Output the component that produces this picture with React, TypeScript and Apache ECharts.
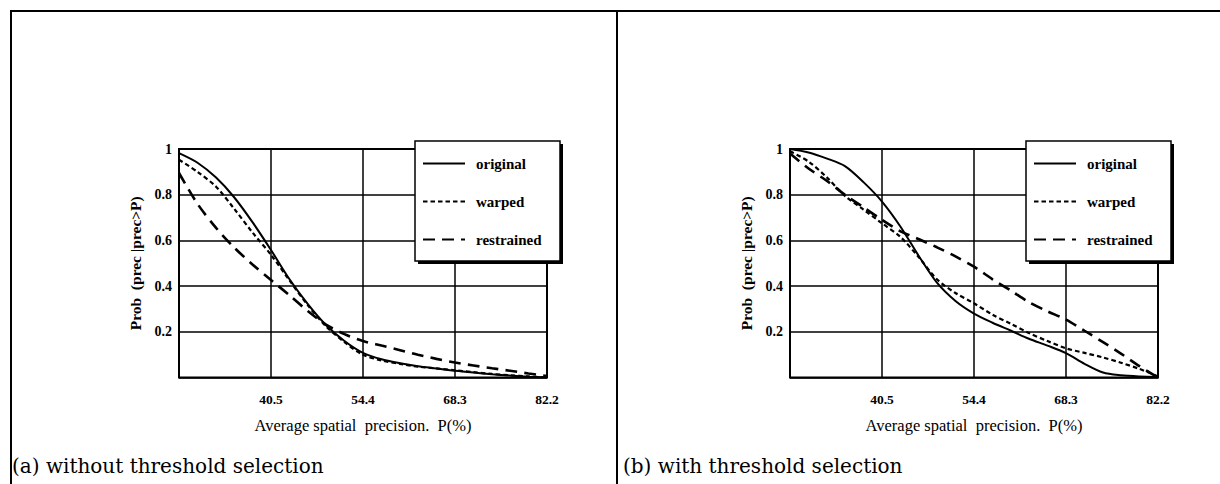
import React, { useEffect, useRef } from "react";
import * as echarts from "echarts";

// ---- data ----
const X_MIN = 26.6;
const X_STEP = 13.9;
const xTickLabels = ["", "40.5", "54.4", "68.3", "82.2"];
const seriesNames = ["original", "warped", "restrained"];

// sample positions along x (average spatial precision, %)
const precision = [26.6, 29.4, 32.2, 34.9, 37.7, 40.5, 43.3, 46.1, 48.8, 51.6, 54.4, 57.2, 60.0, 62.7, 65.5, 68.3, 71.1, 73.9, 76.6, 79.4, 82.2];

// panel (a) without threshold selection
const aOriginal = [0.982, 0.94, 0.875, 0.79, 0.68, 0.558, 0.43, 0.32, 0.23, 0.16, 0.108, 0.08, 0.063, 0.05, 0.04, 0.03, 0.022, 0.015, 0.009, 0.004, 0.0];
const aWarped = [0.953, 0.9, 0.835, 0.74, 0.635, 0.537, 0.425, 0.315, 0.225, 0.155, 0.1, 0.075, 0.06, 0.048, 0.04, 0.032, 0.024, 0.016, 0.01, 0.005, 0.0];
const aRestrained = [0.895, 0.76, 0.655, 0.57, 0.495, 0.427, 0.36, 0.29, 0.232, 0.19, 0.16, 0.14, 0.12, 0.1, 0.082, 0.066, 0.053, 0.041, 0.03, 0.018, 0.007];

// panel (b) with threshold selection
const bOriginal = [1.0, 0.985, 0.958, 0.925, 0.855, 0.77, 0.66, 0.53, 0.415, 0.335, 0.28, 0.24, 0.205, 0.17, 0.14, 0.107, 0.06, 0.022, 0.01, 0.005, 0.003];
const bWarped = [0.99, 0.945, 0.875, 0.795, 0.735, 0.675, 0.615, 0.525, 0.43, 0.37, 0.325, 0.275, 0.235, 0.195, 0.16, 0.128, 0.108, 0.088, 0.065, 0.038, 0.005];
const bRestrained = [0.98, 0.915, 0.86, 0.8, 0.745, 0.69, 0.64, 0.605, 0.57, 0.53, 0.485, 0.43, 0.38, 0.33, 0.29, 0.254, 0.205, 0.155, 0.105, 0.05, 0.0];

const captions = ["(a) without threshold selection", "(b) with threshold selection"];
const xAxisTitle = "Average spatial  precision.  P(%)";
const yAxisTitle = "Prob  (prec |prec>P)";

const toPts = (vs: number[]) => precision.map((p, i) => [(p - X_MIN) / X_STEP, vs[i]]);

const lineStyles: any[] = [
  { color: "#000", width: 2, type: "solid" },
  { color: "#000", width: 2.2, type: [4.5, 3] },
  { color: "#000", width: 2.6, type: [12, 7] },
];

const SERIF = "'Liberation Serif', 'Times New Roman', Times, serif";

export default function App() {
  const ref = useRef<HTMLDivElement>(null);
  useEffect(() => {
    if (!ref.current) return;
    const chart = echarts.init(ref.current, undefined, { renderer: "svg" });
    const gridLefts = [179, 790];
    const grids = gridLefts.map((l) => ({
      left: l,
      top: 149,
      width: 368,
      height: 228.6,
      show: true,
      borderColor: "#000",
      borderWidth: 2,
      backgroundColor: "transparent",
    }));
    const xAxes = gridLefts.map((_, gi) => ({
      type: "value",
      gridIndex: gi,
      min: 0,
      max: 4,
      interval: 1,
      axisLine: { show: false },
      axisTick: { show: false },
      splitLine: { show: true, lineStyle: { color: "#000", width: 1.5 } },
      axisLabel: {
        margin: 15,
        color: "#000",
        fontFamily: SERIF,
        fontWeight: "bold",
        fontSize: 13.5,
        formatter: (v: number) => xTickLabels[Math.round(v)] ?? "",
      },
      name: xAxisTitle,
      nameLocation: "middle",
      nameGap: 39,
      nameTextStyle: { color: "#000", fontFamily: SERIF, fontSize: 16.5 },
    }));
    const yAxes = gridLefts.map((_, gi) => ({
      type: "value",
      gridIndex: gi,
      min: 0,
      max: 1,
      interval: 0.2,
      axisLine: { show: false },
      axisTick: { show: false },
      splitLine: { show: true, lineStyle: { color: "#000", width: 1.5 } },
      axisLabel: {
        margin: 7,
        color: "#000",
        fontFamily: SERIF,
        fontWeight: "bold",
        fontSize: 14,
        formatter: (v: number) => (v < 0.01 ? "" : v > 0.99 ? "1" : v.toFixed(1)),
      },
      name: yAxisTitle,
      nameLocation: "middle",
      nameRotate: 90,
      nameGap: 36,
      nameTextStyle: { color: "#000", fontFamily: SERIF, fontWeight: "bold", fontSize: 15.5 },
    }));

    const panelData = [
      [aOriginal, aWarped, aRestrained],
      [bOriginal, bWarped, bRestrained],
    ];
    const series: any[] = [];
    panelData.forEach((arr, gi) => {
      arr.forEach((vals, si) => {
        series.push({
          type: "line",
          name: seriesNames[si],
          xAxisIndex: gi,
          yAxisIndex: gi,
          data: toPts(vals),
          symbol: "none",
          smooth: 0.3,
          color: "#000",
          lineStyle: lineStyles[si],
          z: 3,
        });
      });
    });

    const legends = gridLefts.map((l) => ({
      orient: "vertical",
      left: l + 238,
      top: 151,
      itemWidth: 42,
      itemHeight: 14,
      itemGap: 23,
      z: 20,
      data: seriesNames,
      selectedMode: false,
      itemStyle: { opacity: 0 },
      textStyle: { color: "#000", fontFamily: SERIF, fontWeight: "bold", fontSize: 15, padding: [0, 0, 0, 6] },
    }));

    const graphic: any[] = [];
    const frame = { stroke: "#000", lineWidth: 2 };
    graphic.push({ type: "line", shape: { x1: 10, y1: 11, x2: 1220, y2: 11 }, style: frame, z: 30 });
    graphic.push({ type: "line", shape: { x1: 11, y1: 10, x2: 11, y2: 484 }, style: frame, z: 30 });
    graphic.push({ type: "line", shape: { x1: 617, y1: 10, x2: 617, y2: 484 }, style: frame, z: 30 });
    gridLefts.forEach((l, gi) => {
      const bx = l + 236;
      graphic.push({ type: "rect", shape: { x: bx + 3, y: 144, width: 145, height: 120 }, style: { fill: "#000" }, z: 10 });
      graphic.push({
        type: "rect",
        shape: { x: bx, y: 141, width: 145, height: 120 },
        style: { fill: "#fff", stroke: "#000", lineWidth: 1.5 },
        z: 11,
      });
      graphic.push({
        type: "text",
        x: gi === 0 ? 12 : 623,
        y: 466,
        style: {
          text: captions[gi],
          font: "20px 'DejaVu Serif'",
          fill: "#000",
          textVerticalAlign: "middle",
        },
        z: 30,
      });
    });

    chart.setOption({
      animation: false,
      backgroundColor: "#fff",
      grid: grids,
      xAxis: xAxes,
      yAxis: yAxes,
      legend: legends,
      series,
      graphic,
    });
    return () => chart.dispose();
  }, []);
  return (
    <div
      ref={ref}
      style={{ position: "absolute", left: 0, top: 0, width: 1220, height: 484 }}
    />
  );
}
